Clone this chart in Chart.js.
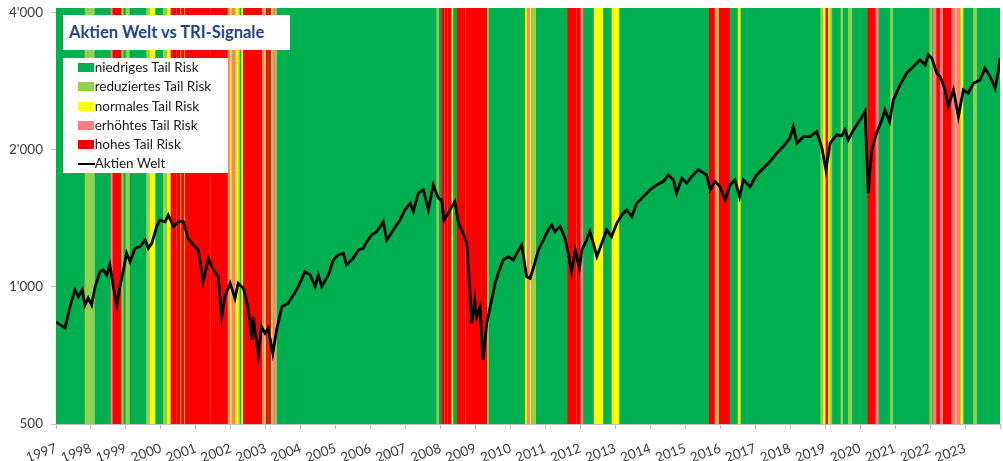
<!DOCTYPE html>
<html>
<head>
<meta charset="utf-8">
<script src="https://cdn.jsdelivr.net/npm/chart.js@4/dist/chart.umd.min.js"></script>
<style>
  html, body { margin: 0; padding: 0; background: #fff; }
  #wrap { position: relative; width: 1003px; height: 461px; overflow: hidden; }
  #titel {
    position: absolute; left: 63px; top: 15px; width: 221px; height: 35px;
    padding-left: 6px; background: #fff; color: #1f468a;
    font: bold 16.5px Lato, sans-serif; line-height: 35px; white-space: nowrap;
  }
  #legende {
    position: absolute; left: 63px; top: 58px; width: 165px; height: 115px;
    background: #fff; font: 13.5px Lato, sans-serif; color: #1a1a1a;
  }
  .eintrag { height: 19.3px; line-height: 19.3px; position: relative; padding-left: 31.7px; white-space: nowrap; }
  .symbol { position: absolute; left: 15.3px; top: 5px; width: 16px; height: 9px; }
  .linie { position: absolute; left: 14.5px; top: 9px; width: 17px; height: 2px; background: #000; }
</style>
</head>
<body>
<div id="wrap">
  <canvas id="grafico" width="1003" height="461"></canvas>
  <div id="titel">Aktien Welt vs TRI-Signale</div>
  <div id="legende"></div>
</div>
<script>
// Aktien Welt: Zeitpunkt (Dezimaljahr) und Indexstand
const jahre = [
  1997.00,1997.26,1997.40,1997.54,1997.64,1997.75,1997.83,1997.92,1998.02,1998.12,
  1998.26,1998.35,1998.45,1998.54,1998.64,1998.74,1998.83,1998.93,1999.02,1999.12,
  1999.26,1999.40,1999.55,1999.64,1999.74,1999.88,1999.97,2000.12,2000.21,2000.36,
  2000.50,2000.64,2000.78,2000.93,2001.07,2001.21,2001.36,2001.50,2001.64,2001.74,
  2001.83,2001.98,2002.12,2002.21,2002.36,2002.50,2002.60,2002.64,2002.79,2002.88,
  2002.98,2003.07,2003.20,2003.31,2003.46,2003.64,2003.79,2003.93,2004.12,2004.27,
  2004.41,2004.50,2004.60,2004.79,2004.93,2005.07,2005.22,2005.31,2005.50,2005.65,
  2005.79,2005.89,2006.03,2006.17,2006.27,2006.36,2006.46,2006.65,2006.84,2006.98,
  2007.13,2007.22,2007.36,2007.51,2007.65,2007.79,2007.94,2008.03,2008.10,2008.22,
  2008.32,2008.41,2008.51,2008.65,2008.75,2008.84,2008.89,2008.98,2009.03,2009.13,
  2009.21,2009.32,2009.46,2009.56,2009.65,2009.79,2009.94,2010.08,2010.18,2010.32,
  2010.46,2010.56,2010.65,2010.80,2010.94,2011.08,2011.18,2011.27,2011.42,2011.56,
  2011.65,2011.75,2011.85,2011.97,2012.04,2012.18,2012.27,2012.37,2012.47,2012.61,
  2012.75,2012.89,2013.04,2013.18,2013.32,2013.47,2013.61,2013.80,2013.99,2014.18,
  2014.37,2014.51,2014.66,2014.75,2014.90,2015.04,2015.18,2015.37,2015.61,2015.71,
  2015.85,2015.99,2016.14,2016.28,2016.42,2016.55,2016.66,2016.85,2017.04,2017.23,
  2017.42,2017.61,2017.80,2017.99,2018.09,2018.19,2018.38,2018.57,2018.76,2018.91,
  2019.02,2019.14,2019.33,2019.47,2019.57,2019.66,2019.81,2020.00,2020.14,2020.23,
  2020.33,2020.47,2020.62,2020.71,2020.84,2020.95,2021.14,2021.33,2021.52,2021.71,
  2021.86,2021.95,2022.05,2022.19,2022.29,2022.43,2022.52,2022.67,2022.81,2022.95,
  2023.09,2023.24,2023.43,2023.57,2023.72,2023.86,2023.95,2024.00
];
const aktienWelt = [
  838,813,905,985,952,985,913,946,913,1002,
  1080,1090,1063,1118,1002,913,1002,1090,1186,1137,
  1216,1226,1268,1216,1247,1357,1403,1391,1439,1357,
  1391,1391,1279,1237,1206,1027,1156,1090,1053,860,
  952,1019,944,1019,993,898,765,860,709,818,
  791,811,715,804,905,921,960,1002,1080,1063,
  1002,1063,1002,1063,1146,1176,1186,1118,1156,1206,
  1216,1258,1301,1323,1357,1391,1268,1334,1403,1476,
  1527,1464,1607,1634,1476,1675,1566,1553,1403,1452,
  1501,1540,1380,1312,1247,985,832,936,860,905,
  691,832,936,1019,1072,1146,1166,1146,1186,1237,
  1053,1045,1099,1206,1268,1334,1368,1323,1357,1279,
  1186,1080,1206,1099,1206,1268,1323,1247,1166,1247,
  1334,1290,1380,1439,1476,1427,1527,1579,1634,1675,
  1704,1762,1718,1607,1733,1690,1747,1808,1762,1634,
  1704,1661,1553,1675,1718,1579,1718,1661,1762,1823,
  1885,1967,2034,2122,2250,2069,2139,2139,2194,2017,
  1808,2069,2158,2147,2213,2104,2213,2328,2428,1607,
  2000,2177,2328,2449,2308,2576,2779,2948,3048,3153,
  3075,3234,3181,2948,2898,2709,2490,2709,2367,2709,
  2664,2803,2850,3024,2898,2733,2972,3181
];

// TRI-Signale: Zeitfenster [von, bis] je Stufe
const niedrig = [[1997.00, 2024.00]];
const reduziert = [
  [1997.83,1998.10],[1998.86,1998.92],[1999.00,1999.10],[1999.59,1999.69],[2000.07,2000.19],
  [2002.21,2002.26],[2003.26,2003.31],[2007.89,2007.94],[2009.32,2009.37],[2010.60,2010.72],
  [2015.88,2015.97],[2018.87,2018.95],[2019.12,2019.19],[2019.45,2019.50],[2019.66,2019.76],
  [2020.87,2020.93],[2021.99,2022.05],[2023.24,2023.33]
];
const normal = [
  [1999.69,1999.83],[2000.19,2000.29],[2000.55,2000.59],[2000.66,2000.70],[2001.96,2002.03],
  [2002.12,2002.21],[2002.31,2002.36],[2002.95,2003.01],[2003.14,2003.20],[2008.30,2008.35],
  [2010.42,2010.48],[2010.54,2010.58],[2012.39,2012.64],[2012.90,2013.10],[2016.51,2016.57],
  [2018.95,2019.02],[2019.07,2019.12],[2022.72,2022.76],[2022.86,2022.94]
];
const erhoeht = [
  [1998.57,1998.63],[2000.43,2000.46],[2001.41,2001.43],[2001.90,2001.96],[2002.03,2002.12],
  [2002.88,2002.95],[2003.20,2003.26],[2008.10,2008.13],[2008.19,2008.22],[2008.70,2008.73],
  [2010.48,2010.54],[2011.87,2011.90],[2011.99,2012.07],[2015.83,2015.88],[2020.43,2020.52],
  [2022.09,2022.19],[2022.27,2022.38],[2022.60,2022.72],[2022.76,2022.86]
];
const hoch = [
  [1998.63,1998.86],[2000.29,2000.43],[2000.46,2000.55],[2000.59,2000.66],[2000.70,2001.41],
  [2001.43,2001.90],[2002.36,2002.88],[2003.01,2003.05],[2003.09,2003.14],[2008.03,2008.10],
  [2008.13,2008.19],[2008.22,2008.30],[2008.48,2008.70],[2008.73,2009.32],[2011.64,2011.87],
  [2011.90,2011.99],[2015.69,2015.83],[2015.97,2016.26],[2019.02,2019.07],[2020.22,2020.43],
  [2022.19,2022.27],[2022.38,2022.60]
];

const signalNamen = ['niedriges Tail Risk','reduziertes Tail Risk','normales Tail Risk','erhöhtes Tail Risk','hohes Tail Risk'];
const linienName = 'Aktien Welt';

// Achsen
const xTicks = [1997,1998,1999,2000,2001,2002,2003,2004,2005,2006,2007,2008,2009,2010,
                2011,2012,2013,2014,2015,2016,2017,2018,2019,2020,2021,2022,2023,2024];
const xLabels = ['1997','1998','1999','2000','2001','2002','2003','2004','2005','2006','2007','2008','2009','2010',
                 '2011','2012','2013','2014','2015','2016','2017','2018','2019','2020','2021','2022','2023'];
const yTicks = [500, 1000, 2000, 4000];
const yLabels = ["500", "1'000", "2'000", "4'000"];

const farben = ['#00b050', '#92d050', '#ffff00', '#ff7c80', '#ff0000'];

function band(label, farbe, spans, order){
  return {
    type: 'bar',
    label: label,
    indexAxis: 'y',
    xAxisID: 'x',
    yAxisID: 'band',
    data: spans.map(s => ({x: s, y: 'TRI'})),
    backgroundColor: farbe,
    borderWidth: 0,
    grouped: false,
    barPercentage: 1,
    categoryPercentage: 1,
    order: order
  };
}

const tickFont = {family: 'Lato', size: 13.5};

new Chart(document.getElementById('grafico'), {
  type: 'line',
  data: {
    datasets: [
      {
        type: 'line',
        label: linienName,
        data: jahre.map((j, i) => ({x: j, y: aktienWelt[i]})),
        xAxisID: 'x',
        yAxisID: 'y',
        borderColor: '#000',
        borderWidth: 2.8,
        pointRadius: 0,
        tension: 0,
        order: 0
      },
      band(signalNamen[4], farben[4], hoch, 1),
      band(signalNamen[3], farben[3], erhoeht, 2),
      band(signalNamen[2], farben[2], normal, 3),
      band(signalNamen[1], farben[1], reduziert, 4),
      band(signalNamen[0], farben[0], niedrig, 9)
    ]
  },
  options: {
    responsive: false,
    animation: false,
    events: [],
    layout: { padding: { top: 8, right: 3, left: 0, bottom: 0 } },
    plugins: {
      legend: { display: false },
      tooltip: { enabled: false }
    },
    scales: {
      x: {
        type: 'linear',
        min: 1997,
        max: 2024,
        afterBuildTicks: s => { s.ticks = xTicks.map(v => ({value: v})); },
        afterFit: s => { s.height = 37; s.paddingLeft = 0; s.paddingRight = 0; },
        ticks: {
          autoSkip: false,
          minRotation: 20,
          maxRotation: 20,
          padding: 11,
          color: '#404040',
          font: tickFont,
          callback: (v, i) => xLabels[i] ?? ''
        },
        grid: { drawOnChartArea: false, tickLength: 5, color: '#bfbfbf' },
        border: { color: '#bfbfbf' }
      },
      y: {
        type: 'logarithmic',
        position: 'left',
        min: 500,
        max: 4100,
        afterBuildTicks: s => { s.ticks = yTicks.map(v => ({value: v})); },
        afterFit: s => { s.width = 56; s.paddingTop = 0; s.paddingBottom = 0; },
        ticks: {
          padding: 8,
          color: '#404040',
          font: tickFont,
          callback: (v, i) => yLabels[i]
        },
        grid: { drawOnChartArea: false, tickLength: 5, color: '#bfbfbf' },
        border: { color: '#bfbfbf' }
      },
      band: {
        type: 'category',
        axis: 'y',
        position: 'right',
        labels: ['TRI'],
        offset: true,
        display: false
      }
    }
  }
});

// Legende im Diagramm
const legende = document.getElementById('legende');
signalNamen.forEach((name, i) => {
  const e = document.createElement('div');
  e.className = 'eintrag';
  e.innerHTML = '<span class="symbol" style="background:' + farben[i] + '"></span>' + name;
  legende.appendChild(e);
});
const l = document.createElement('div');
l.className = 'eintrag';
l.innerHTML = '<span class="linie"></span>' + linienName;
legende.appendChild(l);
</script>
</body>
</html>
